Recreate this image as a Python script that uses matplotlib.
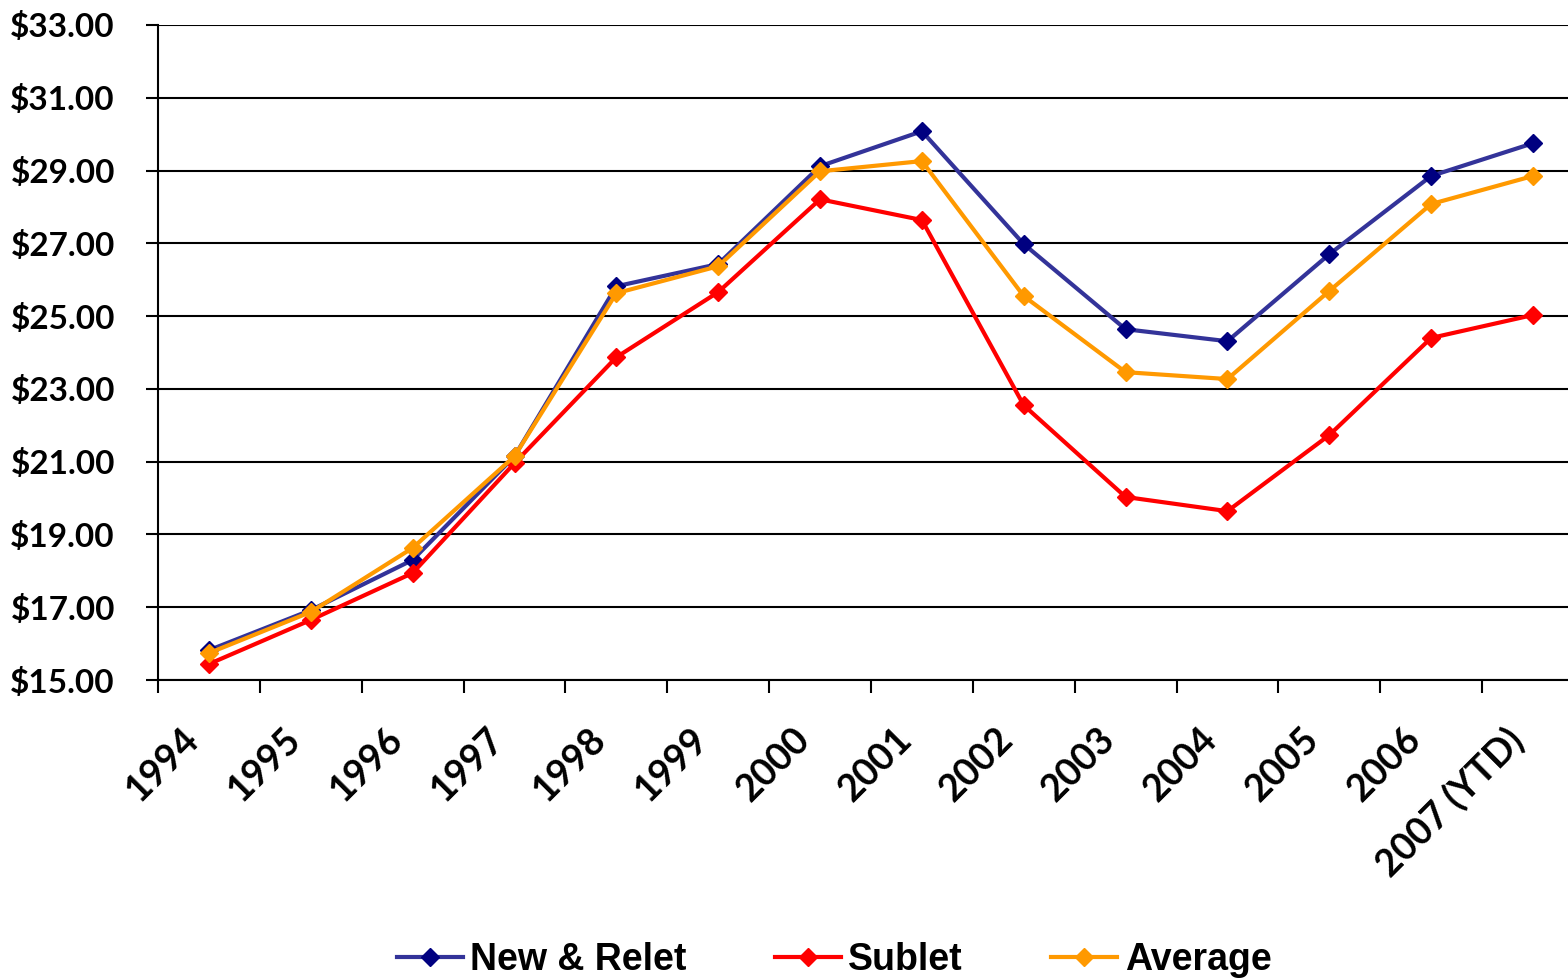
"""Office rent trend chart: New & Relet vs Sublet vs Average"""

import matplotlib
matplotlib.use("Agg")
import matplotlib.pyplot as plt
import matplotlib.transforms as mtransforms
from matplotlib.ticker import FuncFormatter

years = ["1994", "1995", "1996", "1997", "1998", "1999", "2000",
         "2001", "2002", "2003", "2004", "2005", "2006", "2007 (YTD)"]
new_relet = [15.82, 16.92, 18.30, 21.15, 25.82, 26.43, 29.12,
             30.08, 26.98, 24.64, 24.31, 26.70, 28.85, 29.75]
sublet = [15.44, 16.65, 17.94, 20.96, 23.87, 25.66, 28.21,
          27.64, 22.55, 20.03, 19.64, 21.73, 24.40, 25.03]
average = [15.74, 16.87, 18.63, 21.15, 25.63, 26.37, 28.98,
           29.26, 25.55, 23.46, 23.27, 25.69, 28.08, 28.85]
yticks = [15, 17, 19, 21, 23, 25, 27, 29, 31, 33]

plt.rcParams['font.family'] = ['Lato', 'DejaVu Sans']

fig = plt.figure(figsize=(15.68, 9.8), dpi=100)
ax = fig.add_axes([0.1008, 0.3061, 0.8992, 0.6684])

x = [i + 0.5 for i in range(len(years))]
ax.plot(x, new_relet, '-D', color='#333399', mfc='#000080', mec='#000080',
        lw=3, ms=9.5, label='New & Relet')
ax.plot(x, sublet, '-D', color='#FF0000', mfc='#FF0000', mec='#FF0000',
        lw=3, ms=9.5, label='Sublet')
ax.plot(x, average, '-D', color='#FF9900', mfc='#FF9900', mec='#FF9900',
        lw=3, ms=9.5, label='Average')

ax.set_ylim(15, 33)
ax.set_xlim(0, 13.844)
ax.set_yticks(yticks)
ax.yaxis.set_major_formatter(FuncFormatter(lambda v, p: "${:.2f}".format(v)))
ax.grid(axis='y', color='black', lw=1.5)
ax.set_axisbelow(True)

ax.set_xticks(range(len(years)))
ax.set_xticklabels([])
ax.set_xticks(x, minor=True)
ax.set_xticklabels(years, minor=True, rotation=45, ha='right',
                   rotation_mode='anchor', fontsize=27, fontweight='bold')
ax.tick_params(axis='x', which='minor', length=0, pad=30)
ax.tick_params(axis='x', which='major', length=9, width=1.5)
ax.tick_params(axis='y', length=9, width=1.5, labelsize=24, pad=22)
for lbl in ax.get_yticklabels():
    lbl.set_fontweight('bold')

# shift the rotated year labels a little to the left, like the original
shift = mtransforms.ScaledTranslation(-28 / 100, 0, fig.dpi_scale_trans)
for lbl in ax.get_xticklabels(minor=True):
    lbl.set_transform(lbl.get_transform() + shift)

for side in ['top', 'right']:
    ax.spines[side].set_visible(False)
ax.spines['bottom'].set_linewidth(1.5)
ax.spines['left'].set_linewidth(1.5)

leg = fig.legend(loc='center', bbox_to_anchor=(0.532, 0.02), ncol=3,
                 frameon=False, handlelength=1.76,
                 columnspacing=2.35, handletextpad=0.2,
                 prop={'family': ['Liberation Sans Narrow', 'Liberation Sans'],
                       'weight': 'bold', 'size': 27})

fig.savefig("out.png", dpi=100)
